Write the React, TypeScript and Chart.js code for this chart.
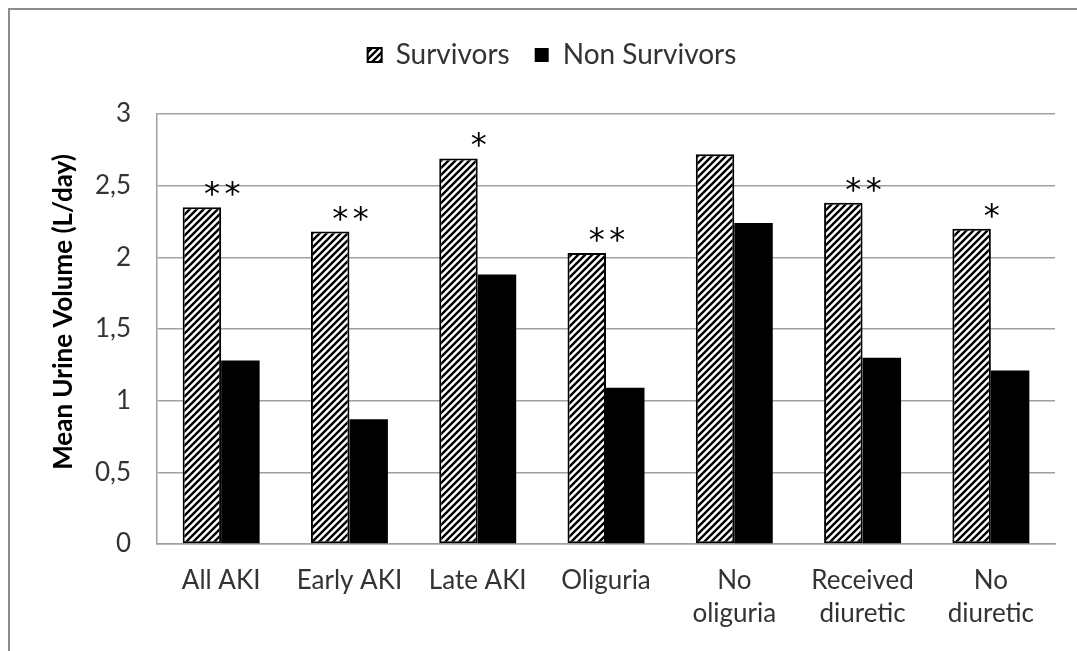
import React, { useEffect, useRef } from 'react';
import { Chart, registerables } from 'chart.js';

Chart.register(...registerables);

const categories: (string | string[])[] = [
  'All AKI',
  'Early AKI',
  'Late AKI',
  'Oliguria',
  ['No', 'oliguria'],
  ['Received', 'diuretic'],
  ['No', 'diuretic'],
];
const survivors = [2.35, 2.18, 2.69, 2.03, 2.72, 2.38, 2.2];
const nonSurvivors = [1.28, 0.87, 1.88, 1.09, 2.24, 1.3, 1.21];
const significance = ['**', '**', '*', '**', '', '**', '*'];
const yTickLabels = ['0', '0,5', '1', '1,5', '2', '2,5', '3'];
const seriesNames = ['Survivors', 'Non Survivors'];
const yAxisTitle = 'Mean Urine Volume (L/day)';

function makeHatch(): CanvasPattern | string {
  const c = document.createElement('canvas');
  const s = 7;
  c.width = s;
  c.height = s;
  const g = c.getContext('2d');
  if (!g) return '#888';
  g.fillStyle = '#fff';
  g.fillRect(0, 0, s, s);
  g.strokeStyle = '#000';
  g.lineWidth = 2.4;
  g.beginPath();
  g.moveTo(0, s);
  g.lineTo(s, 0);
  g.moveTo(-2, 2);
  g.lineTo(2, -2);
  g.moveTo(s - 2, s + 2);
  g.lineTo(s + 2, s - 2);
  g.stroke();
  return g.createPattern(c, 'repeat') || '#888';
}

const LEGEND_EXTRA = 35;

const legendSpacer = {
  id: 'legendSpacer',
  beforeInit(chart: any) {
    const legend = chart.legend;
    if (!legend) return;
    const fit = legend.fit;
    legend.fit = function () {
      fit.call(this);
      this.height += LEGEND_EXTRA;
    };
  },
};

const yTitlePlugin = {
  id: 'yTitle',
  afterDraw(chart: any) {
    const { ctx } = chart;
    ctx.save();
    ctx.translate(64, 312);
    ctx.rotate(-Math.PI / 2);
    ctx.font = 'bold 26px Lato';
    ctx.fillStyle = '#000';
    ctx.textAlign = 'center';
    ctx.textBaseline = 'middle';
    ctx.fillText(yAxisTitle, 0, 0);
    ctx.restore();
  },
};

const starsPlugin = {
  id: 'stars',
  afterDatasetsDraw(chart: any) {
    const { ctx } = chart;
    const x = chart.scales.x;
    const y = chart.scales.y;
    ctx.save();
    ctx.font = '32px "DejaVu Sans"';
    ctx.fillStyle = '#000';
    ctx.textAlign = 'center';
    ctx.textBaseline = 'alphabetic';
    const m = ctx.measureText('*');
    const asc = m.actualBoundingBoxAscent;
    const desc = m.actualBoundingBoxDescent;
    significance.forEach((s, i) => {
      if (!s) return;
      const cx = x.getPixelForValue(i) + 1;
      const cy = y.getPixelForValue(survivors[i]) - 18.5;
      const baseline = cy + (asc - desc) / 2;
      const n = s.length;
      for (let k = 0; k < n; k++) {
        const dx = (k - (n - 1) / 2) * 20.5;
        ctx.fillText('*', cx + dx, baseline);
      }
    });
    ctx.restore();
  },
};

export default function App() {
  const ref = useRef<HTMLCanvasElement | null>(null);

  useEffect(() => {
    if (!ref.current) return;
    const hatch = makeHatch();
    const chart = new Chart(ref.current, {
      type: 'bar',
      data: {
        labels: categories as any,
        datasets: [
          {
            label: seriesNames[0],
            data: survivors,
            backgroundColor: hatch as any,
            borderColor: '#000',
            borderWidth: 2,
            borderSkipped: false,
          },
          {
            label: seriesNames[1],
            data: nonSurvivors,
            backgroundColor: '#000',
            borderColor: '#000',
            borderWidth: 0,
          },
        ],
      },
      options: {
        animation: false,
        responsive: true,
        maintainAspectRatio: false,
        layout: { padding: { left: 49, right: 22, top: 16, bottom: 0 } },
        datasets: {
          bar: { categoryPercentage: 0.6, barPercentage: 1.0 },
        },
        plugins: {
          tooltip: { enabled: false },
          legend: {
            display: true,
            position: 'top',
            labels: {
              boxWidth: 14,
              boxHeight: 14,
              padding: 25,
              color: '#333',
              font: { family: 'Lato', size: 28 },
            },
          },
        },
        scales: {
          x: {
            type: 'category',
            grid: { display: false, drawTicks: false },
            border: { display: true, color: '#a0a0a0', width: 1.5 },
            ticks: {
              color: '#333',
              font: { family: 'Lato', size: 26, lineHeight: 1.27 },
              padding: 20,
              maxRotation: 0,
              autoSkip: false,
            },
            afterFit: (s: any) => {
              s.height = 107;
            },
          },
          y: {
            min: 0,
            max: 3,
            grid: { color: '#a0a0a0', lineWidth: 1.5, drawTicks: false },
            border: { display: true, color: '#a0a0a0', width: 1.5 },
            ticks: {
              stepSize: 0.5,
              color: '#333',
              font: { family: 'Lato', size: 26 },
              padding: 26,
              callback: (v: any) => yTickLabels[Math.round(Number(v) * 2)],
            },
            title: { display: false },
            afterFit: (s: any) => {
              s.width = 108;
            },
          },
        },
      },
      plugins: [legendSpacer, starsPlugin, yTitlePlugin],
    });
    return () => chart.destroy();
  }, []);

  return (
    <div
      style={{
        position: 'absolute',
        left: 0,
        top: 0,
        width: 1077,
        height: 651,
        overflow: 'hidden',
        background: '#fff',
      }}
    >
      <div
        style={{
          position: 'absolute',
          left: 8,
          top: 8,
          width: 1200,
          height: 800,
          border: '2px solid #8c8c8c',
        }}
      />
      <div style={{ position: 'absolute', left: 0, top: 0, width: 1077, height: 651 }}>
        <canvas ref={ref} />
      </div>
    </div>
  );
}
